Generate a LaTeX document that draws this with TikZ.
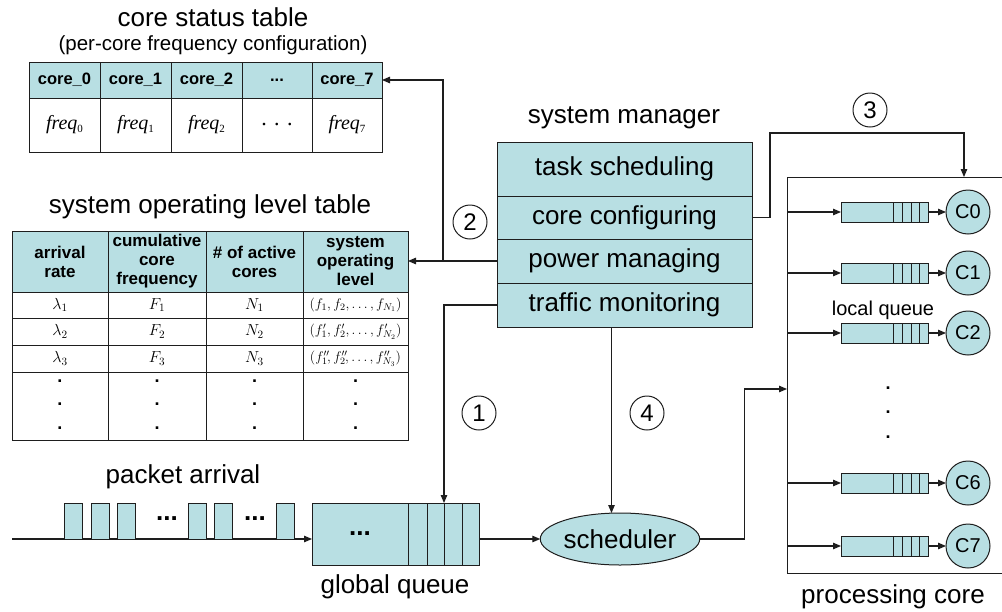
\documentclass[tikz,border=0pt]{standalone}
\usepackage{fix-cm}
\usepackage{fontspec}
\setmainfont{Liberation Sans}
\newfontfamily\tms{Liberation Serif}
\usetikzlibrary{arrows.meta,shapes.geometric}
\definecolor{qfill}{RGB}{184,223,227}
\definecolor{lc}{RGB}{30,30,30}
\begin{document}
\begin{tikzpicture}[x=1pt,y=-1pt,
  every node/.style={inner sep=0pt, outer sep=0pt},
  ln/.style={draw=lc, line width=1.1pt},
  arr/.style={draw=lc, line width=1.1pt, -{Triangle[length=8pt,width=6.5pt]}},
  cyanbox/.style={draw=lc, line width=1pt, fill=qfill},
  whitebox/.style={draw=lc, line width=1pt, fill=white},
  big/.style={font=\fontsize{26}{30}\selectfont},
  hdr/.style={cyanbox, font=\bfseries\fontsize{16.5}{19}\selectfont, align=center},
  shdr/.style={cyanbox, font=\bfseries\fontsize{17}{19}\selectfont, align=center},
  mcell/.style={whitebox, font=\fontsize{16}{18}\selectfont},
  m4cell/.style={whitebox, font=\fontsize{14}{16}\selectfont},
  fcell/.style={whitebox, font=\tms\itshape\fontsize{20}{22}\selectfont},
  dotn/.style={font=\bfseries\fontsize{18}{18}\selectfont},
  num/.style={circle, draw=lc, line width=1pt, minimum size=34pt, font=\fontsize{24}{24}\selectfont},
  core/.style={circle, cyanbox, minimum size=44pt, font=\fontsize{20}{20}\selectfont},
  pkt/.style={cyanbox, minimum width=18pt, minimum height=36pt}
]
\useasboundingbox (0,0) rectangle (1002,611);

% ---------- core status table ----------
\node[big] (tcs) at (213,17) {core status table};
\node[font=\fontsize{20.5}{24}\selectfont] (tcs2) at (213,45) {(per-core frequency configuration)};
\node[hdr, minimum width=71pt, minimum height=36pt] (cs0) at (64.5,80) {core\_0};
\node[hdr, minimum width=71pt, minimum height=36pt] (cs1) at (135.5,80) {core\_1};
\node[hdr, minimum width=71pt, minimum height=36pt] (cs2) at (206.5,80) {core\_2};
\node[hdr, minimum width=70pt, minimum height=36pt] (csd) at (277,80) {...};
\node[hdr, minimum width=70pt, minimum height=36pt] (cs7) at (347,80) {core\_7};
\newcommand{\fq}[1]{freq\raisebox{-3pt}{\upshape\fontsize{11}{11}\selectfont #1}}
\node[fcell, minimum width=71pt, minimum height=54pt] (fq0) at (64.5,125) {\fq{0}};
\node[fcell, minimum width=71pt, minimum height=54pt] (fq1) at (135.5,125) {\fq{1}};
\node[fcell, minimum width=71pt, minimum height=54pt] (fq2) at (206.5,125) {\fq{2}};
\node[fcell, minimum width=70pt, minimum height=54pt, font=\tms\fontsize{22}{22}\selectfont] (fqd) at (277,125) {. . .};
\node[fcell, minimum width=70pt, minimum height=54pt] (fq7) at (347,125) {\fq{7}};

% ---------- system operating level table ----------
\node[big] (tsol) at (210,207) {system operating level table};
\node[shdr, minimum width=96pt, minimum height=61pt] (solh1) at (60,261.5) {arrival\\rate};
\node[shdr, minimum width=98pt, minimum height=61pt] (solh2) at (157,261.5) {cumulative\\core\\frequency};
\node[shdr, minimum width=97pt, minimum height=61pt] (solh3) at (254.5,261.5) {\# of active\\cores};
\node[shdr, minimum width=105pt, minimum height=61pt] (solh4) at (355.5,261.5) {system\\operating\\level};

\node[mcell, minimum width=96pt, minimum height=26pt] (sola1) at (60,305) {$\lambda_1$};
\node[mcell, minimum width=98pt, minimum height=26pt] (sola2) at (157,305) {$F_1$};
\node[mcell, minimum width=97pt, minimum height=26pt] (sola3) at (254.5,305) {$N_1$};
\node[m4cell, minimum width=105pt, minimum height=26pt] (sola4) at (355.5,305) {$(f_1, f_2,\ldots, f_{N_1})$};

\node[mcell, minimum width=96pt, minimum height=27pt] (solb1) at (60,331.5) {$\lambda_2$};
\node[mcell, minimum width=98pt, minimum height=27pt] (solb2) at (157,331.5) {$F_2$};
\node[mcell, minimum width=97pt, minimum height=27pt] (solb3) at (254.5,331.5) {$N_2$};
\node[m4cell, minimum width=105pt, minimum height=27pt] (solb4) at (355.5,331.5) {$(f_1^{\prime}, f_2^{\prime},\ldots, f_{N_2}^{\prime})$};

\node[mcell, minimum width=96pt, minimum height=27pt] (solc1) at (60,358.5) {$\lambda_3$};
\node[mcell, minimum width=98pt, minimum height=27pt] (solc2) at (157,358.5) {$F_3$};
\node[mcell, minimum width=97pt, minimum height=27pt] (solc3) at (254.5,358.5) {$N_3$};
\node[m4cell, minimum width=105pt, minimum height=27pt] (solc4) at (355.5,358.5) {$(f_1^{\prime\prime}\!, f_2^{\prime\prime}\!,\ldots, f_{N_3}^{\prime\prime})$};

\node[whitebox, minimum width=96pt, minimum height=68pt] (sold1) at (60,406) {};
\node[whitebox, minimum width=98pt, minimum height=68pt] (sold2) at (157,406) {};
\node[whitebox, minimum width=97pt, minimum height=68pt] (sold3) at (254.5,406) {};
\node[whitebox, minimum width=105pt, minimum height=68pt] (sold4) at (355.5,406) {};
\foreach \x [count=\i] in {60,157,254.5,355.5}{
  \foreach \y [count=\j] in {381,404,428}{
    \node[dotn] (sd\i\j) at (\x,\y) {.};
  }
}

% ---------- system manager ----------
\node[big] (tsm) at (624,118) {system manager};
\node[cyanbox, big, minimum width=255pt, minimum height=54pt] (smts) at (624.5,169) {task scheduling};
\node[cyanbox, big, minimum width=255pt, minimum height=43pt] (smcc) at (624.5,217.5) {core configuring};
\node[cyanbox, big, minimum width=255pt, minimum height=44pt] (smpm) at (624.5,261) {power managing};
\node[cyanbox, big, minimum width=255pt, minimum height=44pt] (smtm) at (624.5,305) {traffic monitoring};

% ---------- circled numbers ----------
\node[num] (n1) at (479,413) {1};
\node[num] (n2) at (470,222) {2};
\node[num] (n3) at (870,110) {3};
\node[num] (n4) at (647,413) {4};

% ---------- packet arrival and global queue ----------
\node[big] (tpa) at (183,477) {packet arrival};
\coordinate (src) at (12,539);
\node[cyanbox, minimum width=96pt, minimum height=62pt, font=\bfseries\fontsize{26}{26}\selectfont] (gqm) at (360,534) {...};
\node[cyanbox, minimum width=19pt, minimum height=62pt] (gqa) at (417.5,534) {};
\node[cyanbox, minimum width=17pt, minimum height=62pt] (gqb) at (435.5,534) {};
\node[cyanbox, minimum width=18pt, minimum height=62pt] (gqc) at (453,534) {};
\node[cyanbox, minimum width=17pt, minimum height=62pt] (gqd) at (470.5,534) {};
\node[big] (tgq) at (395,587) {global queue};
\draw[arr] (src) -- (src -| gqm.west);
\foreach \x [count=\i] in {73,100,126,197,223,285.5}{
  \node[pkt] (p\i) at (\x,521) {};
}
\node[font=\bfseries\fontsize{26}{26}\selectfont] (pd1) at (167,519) {...};
\node[font=\bfseries\fontsize{26}{26}\selectfont] (pd2) at (255,519) {...};

% ---------- scheduler ----------
\node[ellipse, cyanbox, big, minimum width=140pt, minimum height=52pt] (sched) at (620,539) {scheduler};
\draw[arr] (src -| gqd.east) -- (sched.west);

% ---------- processing core ----------
\node[draw=lc, line width=1pt, minimum width=223pt, minimum height=396pt] (pc) at (898.5,375) {};
\node[big] (tpc) at (893,597) {processing core};
\node[font=\fontsize{20}{24}\selectfont] (tlq) at (883,310) {local queue};
\foreach \n/\y in {0/212,1/273,2/333,6/483,7/546}{
  \node[cyanbox, minimum width=52pt, minimum height=20pt] (lq\n) at (867,\y) {};
  \node[cyanbox, minimum width=9pt, minimum height=20pt] (lqa\n) at (897.5,\y) {};
  \node[cyanbox, minimum width=9pt, minimum height=20pt] (lqb\n) at (906.5,\y) {};
  \node[cyanbox, minimum width=8pt, minimum height=20pt] (lqc\n) at (915,\y) {};
  \node[cyanbox, minimum width=9pt, minimum height=20pt] (lqd\n) at (923.5,\y) {};
  \node[core] (c\n) at (968,\y) {C\n};
  \draw[arr] (pc.west |- lq\n) -- (lq\n.west);
  \draw[arr] (lqd\n.east) -- (c\n.west);
}
\node[dotn] (pd3) at (888,388) {.};
\node[dotn] (pd4) at (888,412) {.};
\node[dotn] (pd5) at (888,437) {.};
\coordinate (pcin) at (787,389);
\draw[arr] (sched.east) -- ++(45,0) |- (pcin);

% ---------- manager connectors ----------
\draw[arr] (smpm.west) -- (smpm.west -| solh4.east);
\coordinate (j1) at (443,261);
\draw[arr] (j1) |- (cs7.east);
\draw[arr] (smtm.west) -| (gqb.north east);
\coordinate (k3) at (964,133);
\draw[arr] (smcc.east) -- ++(18,0) |- (k3) -- (k3 |- pc.north);
\draw[arr] ([xshift=-13pt]smtm.south) -- ([xshift=-13pt]smtm.south |- sched.north);
\end{tikzpicture}
\end{document}
